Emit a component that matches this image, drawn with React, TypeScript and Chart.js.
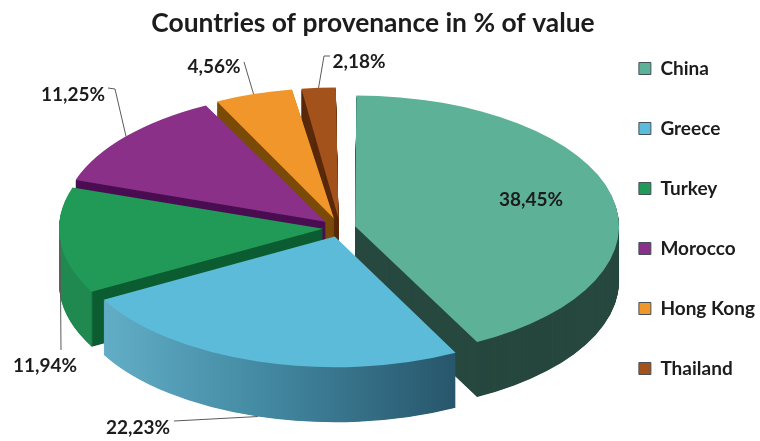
import React, { useEffect, useRef } from "react";
import { Chart, registerables } from "chart.js";

Chart.register(...registerables);

const categories = ["China", "Greece", "Turkey", "Morocco", "Hong Kong", "Thailand"];
const shares = [38.45, 22.23, 11.94, 11.25, 4.56, 2.18];
const shareLabels = ["38,45%", "22,23%", "11,94%", "11,25%", "4,56%", "2,18%"];
const topColors = ["#5cb197", "#5bbbd9", "#229a57", "#8a3088", "#f0962b", "#a4521c"];
const sideColors = ["#27483f", "#3f7f97", "#0b5c30", "#4b0e52", "#7a4a08", "#5a2a0c"];
const explode = [15.5, 18, 17, 19, 20, 20];
const labelX = [531, 138, 45, 73, 214, 359];
const labelY = [200, 428, 366, 95, 67, 62];
const leaderPoints: number[][][] = [
  [],
  [[174, 421]],
  [[61, 350]],
  [[115, 89], [108, 88]],
  [[244, 62]],
  [[324, 56], [330, 56]],
];
const leaderBelowRim = [false, true, false, false, false, false];

const PIE_X = 340;
const PIE_Y = 228;
const K = 0.495;
const R = 264;
const DEPTH = 55;
const drawBackToFront = [5, 4, 3, 0, 2, 1];

const App = () => {
  const ref = useRef<HTMLCanvasElement>(null);
  useEffect(() => {
    document.body.style.margin = "0";
    const pie3d = {
      id: "pie3d",
      afterDatasetsUpdate(chart: any) {
        chart.getDatasetMeta(0).data.forEach((arc: any, i: number) => {
          const fix = 1 - Math.sin(Math.min(Math.PI, arc.circumference));
          arc.outerRadius = R - explode[i] * fix;
        });
      },
      beforeDatasetsDraw(chart: any) {
        const ctx = chart.ctx;
        const arcs = chart.getDatasetMeta(0).data;
        const fillFor = (i: number) => {
          const arc = arcs[i];
          const mid = (arc.startAngle + arc.endAngle) / 2;
          const toUser = (sx: number) => sx - PIE_X + arc.x - Math.cos(mid) * explode[i];
          if (i === 1) {
            const g = ctx.createLinearGradient(toUser(105), 0, toUser(456), 0);
            g.addColorStop(0, "#62adc6");
            g.addColorStop(0.45, "#4389a2");
            g.addColorStop(1, "#27566b");
            return g;
          }
          if (i === 2) {
            const edge = PIE_X + Math.cos(mid) * explode[i] + Math.cos(arc.startAngle) * R;
            const g = ctx.createLinearGradient(toUser(edge - 1), 0, toUser(edge + 1), 0);
            g.addColorStop(0, "#20894f");
            g.addColorStop(1, sideColors[i]);
            return g;
          }
          return sideColors[i];
        };
        for (const i of drawBackToFront) {
          const arc = arcs[i];
          const original = arc.options;
          const fill = fillFor(i);
          arc.options = {
            backgroundColor: fill,
            borderColor: fill,
            borderWidth: 0,
            offset: explode[i] * 4,
            spacing: 0,
            borderAlign: "center",
            borderRadius: 0,
            circular: true,
            borderJoinStyle: "round",
            borderDash: [],
            borderDashOffset: 0,
          };
          for (let d = DEPTH; d >= 1; d -= 0.5) {
            ctx.save();
            ctx.translate(PIE_X, PIE_Y + d);
            ctx.scale(1, K);
            ctx.translate(-arc.x, -arc.y);
            arc.draw(ctx);
            ctx.restore();
          }
          arc.options = original;
        }
        const first = arcs[0];
        ctx.save();
        ctx.translate(PIE_X, PIE_Y);
        ctx.scale(1, K);
        ctx.translate(-first.x, -first.y);
      },
      afterDatasetsDraw(chart: any) {
        const ctx = chart.ctx;
        ctx.restore();
        const arcs = chart.getDatasetMeta(0).data;
        ctx.save();
        ctx.strokeStyle = "#5a5a5a";
        ctx.lineWidth = 1;
        arcs.forEach((arc: any, i: number) => {
          if (!leaderPoints[i].length) return;
          const mid = (arc.startAngle + arc.endAngle) / 2;
          const rr = explode[i] + R;
          ctx.beginPath();
          ctx.moveTo(
            PIE_X + Math.cos(mid) * rr,
            PIE_Y + Math.sin(mid) * rr * K + (leaderBelowRim[i] ? DEPTH : 0),
          );
          leaderPoints[i].forEach((p) => ctx.lineTo(p[0], p[1]));
          ctx.stroke();
        });
        ctx.font = "bold 19px Lato";
        ctx.fillStyle = "#1c1c1c";
        ctx.textAlign = "center";
        ctx.textBaseline = "middle";
        shareLabels.forEach((t, i) => ctx.fillText(t, labelX[i], labelY[i]));
        ctx.restore();
      },
    };

    const chart = new Chart(ref.current as HTMLCanvasElement, {
      type: "pie",
      data: {
        labels: categories,
        datasets: [
          {
            data: shares,
            backgroundColor: topColors,
            borderWidth: 0,
            offset: explode.map((v) => v * 4),
            radius: R,
            clip: false,
          } as any,
        ],
      },
      options: {
        responsive: false,
        animation: false,
        layout: { padding: { left: -19, right: -5, top: 18, bottom: -18 } },
        plugins: {
          tooltip: { enabled: false },
          title: {
            display: true,
            text: "Countries of provenance in % of value",
            color: "#1c1c1c",
            font: { family: "Lato", size: 26.4, weight: "bold" },
            padding: { top: -10, bottom: -22.2 },
          },
          legend: {
            position: "right",
            align: "start",
            labels: {
              boxWidth: 12,
              boxHeight: 12,
              padding: 41,
              color: "#1c1c1c",
              font: { family: "Lato", size: 19, weight: "bold" },
              generateLabels: (c: any) =>
                (Chart as any).overrides.doughnut.plugins.legend.labels
                  .generateLabels(c)
                  .map((l: any) => ({ ...l, strokeStyle: "#44505a", lineWidth: 1 })),
            },
          },
        },
      } as any,
      plugins: [pie3d],
    });
    return () => chart.destroy();
  }, []);
  return (
    <div style={{ position: "fixed", left: 0, top: 0, width: 760, height: 441, background: "#fff" }}>
      <canvas ref={ref} width={760} height={441} style={{ display: "block" }} />
    </div>
  );
};

export default App;
